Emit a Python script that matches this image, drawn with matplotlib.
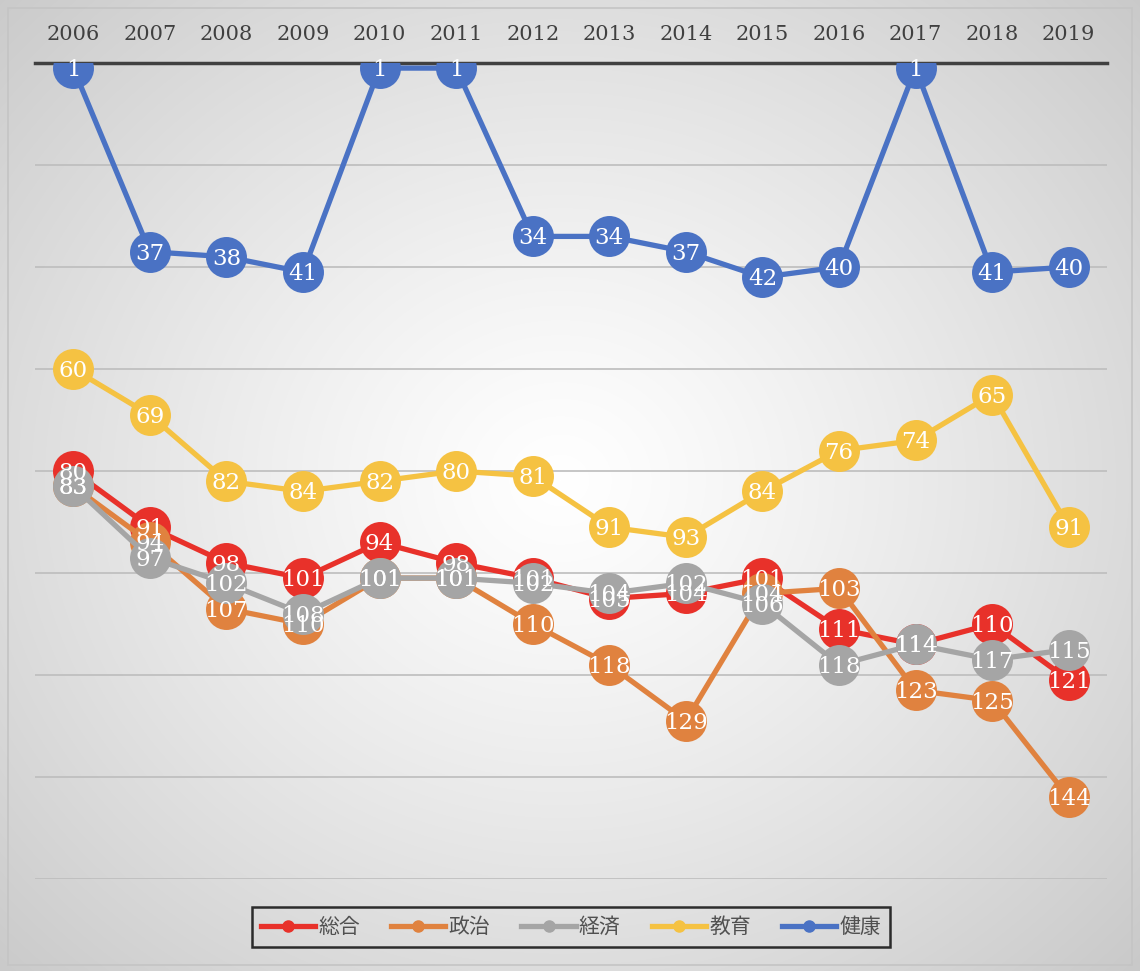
import numpy as np
import matplotlib
matplotlib.use("Agg")
import matplotlib.pyplot as plt
from matplotlib.patches import Rectangle

years = ["2006", "2007", "2008", "2009", "2010", "2011", "2012",
         "2013", "2014", "2015", "2016", "2017", "2018", "2019"]
series_names = ["総合", "政治", "経済", "教育", "健康"]
sogo = [80, 91, 98, 101, 94, 98, 101, 105, 104, 101, 111, 114, 110, 121]
seiji = [83, 94, 107, 110, 101, 101, 110, 118, 129, 104, 103, 123, 125, 144]
keizai = [83, 97, 102, 108, 101, 101, 102, 104, 102, 106, 118, 114, 117, 115]
kyoiku = [60, 69, 82, 84, 82, 80, 81, 91, 93, 84, 76, 74, 65, 91]
kenko = [1, 37, 38, 41, 1, 1, 34, 34, 37, 42, 40, 1, 41, 40]
colors = ["#E8312A", "#E0823F", "#A5A5A5", "#F5C242", "#4A72C4"]

W, H = 1140, 971
fig = plt.figure(figsize=(W / 100, H / 100), dpi=100)

# background radial gradient
bg = fig.add_axes([0, 0, 1, 1], zorder=-10)
yy, xx = np.mgrid[0:H, 0:W]
r = np.sqrt(((xx - 560) / 760.0) ** 2 + ((yy - 480) / 680.0) ** 2)
val = 1.0 - 0.2 * np.clip(r, 0, 1.2) ** 1.2
img = np.dstack([val, val, val])
bg.imshow(img, extent=[0, W, H, 0], aspect="auto")
bg.set_xlim(0, W)
bg.set_ylim(H, 0)
bg.axis("off")
bg.add_patch(Rectangle((8, 8), W - 16, H - 14, fill=False, edgecolor="#c4c4c4", lw=1.2))

ax = fig.add_axes([35 / W, 1 - 879 / H, (1107 - 35) / W, (879 - 63) / H])
ax.set_facecolor("none")
x = np.arange(len(years))
all_series = [sogo, seiji, keizai, kyoiku, kenko]
for i, (name, vals, c) in enumerate(zip(series_names, all_series, colors)):
    ax.plot(x, vals, color=c, lw=3.8, marker="o", markersize=29.5,
            markeredgewidth=0, label=name, zorder=3 + i, solid_capstyle="round")
for i, (vals, c) in enumerate(zip(all_series, colors)):
    for xi, v in zip(x, vals):
        ax.text(xi, v + 0.4, str(v), ha="center", va="center", color="white",
                fontsize=16.5, family="DejaVu Serif", zorder=20)

ax.set_xlim(-0.5, len(years) - 0.5)
ax.set_ylim(160, 0)
ax.set_yticks(np.arange(20, 161, 20))
ax.yaxis.grid(True, color="#bdbdbd", lw=1.2)
ax.set_axisbelow(True)
ax.tick_params(axis="y", left=False, labelleft=False)
ax.xaxis.tick_top()
ax.set_xticks(x)
ax.set_xticklabels(years, family="DejaVu Serif", fontsize=15, color="#404040")
ax.tick_params(axis="x", top=False, pad=10)
for s in ["left", "right", "bottom"]:
    ax.spines[s].set_visible(False)
ax.spines["top"].set_color("#404040")
ax.spines["top"].set_linewidth(2.5)
ax.spines["top"].set_zorder(2)

handles = [plt.Line2D([0], [0], color=c, lw=3.8, marker="o", markersize=8) for c in colors]
leg = fig.legend(handles, series_names, loc="center", bbox_to_anchor=(571 / W, 1 - 927 / H),
                 ncol=5, frameon=True, fancybox=False, handlelength=2.6, columnspacing=1.5,
                 handletextpad=0.15, borderpad=0.45,
                 prop={"family": ["Noto Sans CJK JP", "DejaVu Sans"], "size": 15})
leg.get_frame().set_edgecolor("#000000")
leg.get_frame().set_linewidth(1.8)
leg.get_frame().set_facecolor("none")
for t in leg.get_texts():
    t.set_color("#505050")

fig.savefig("out.png", dpi=100)
